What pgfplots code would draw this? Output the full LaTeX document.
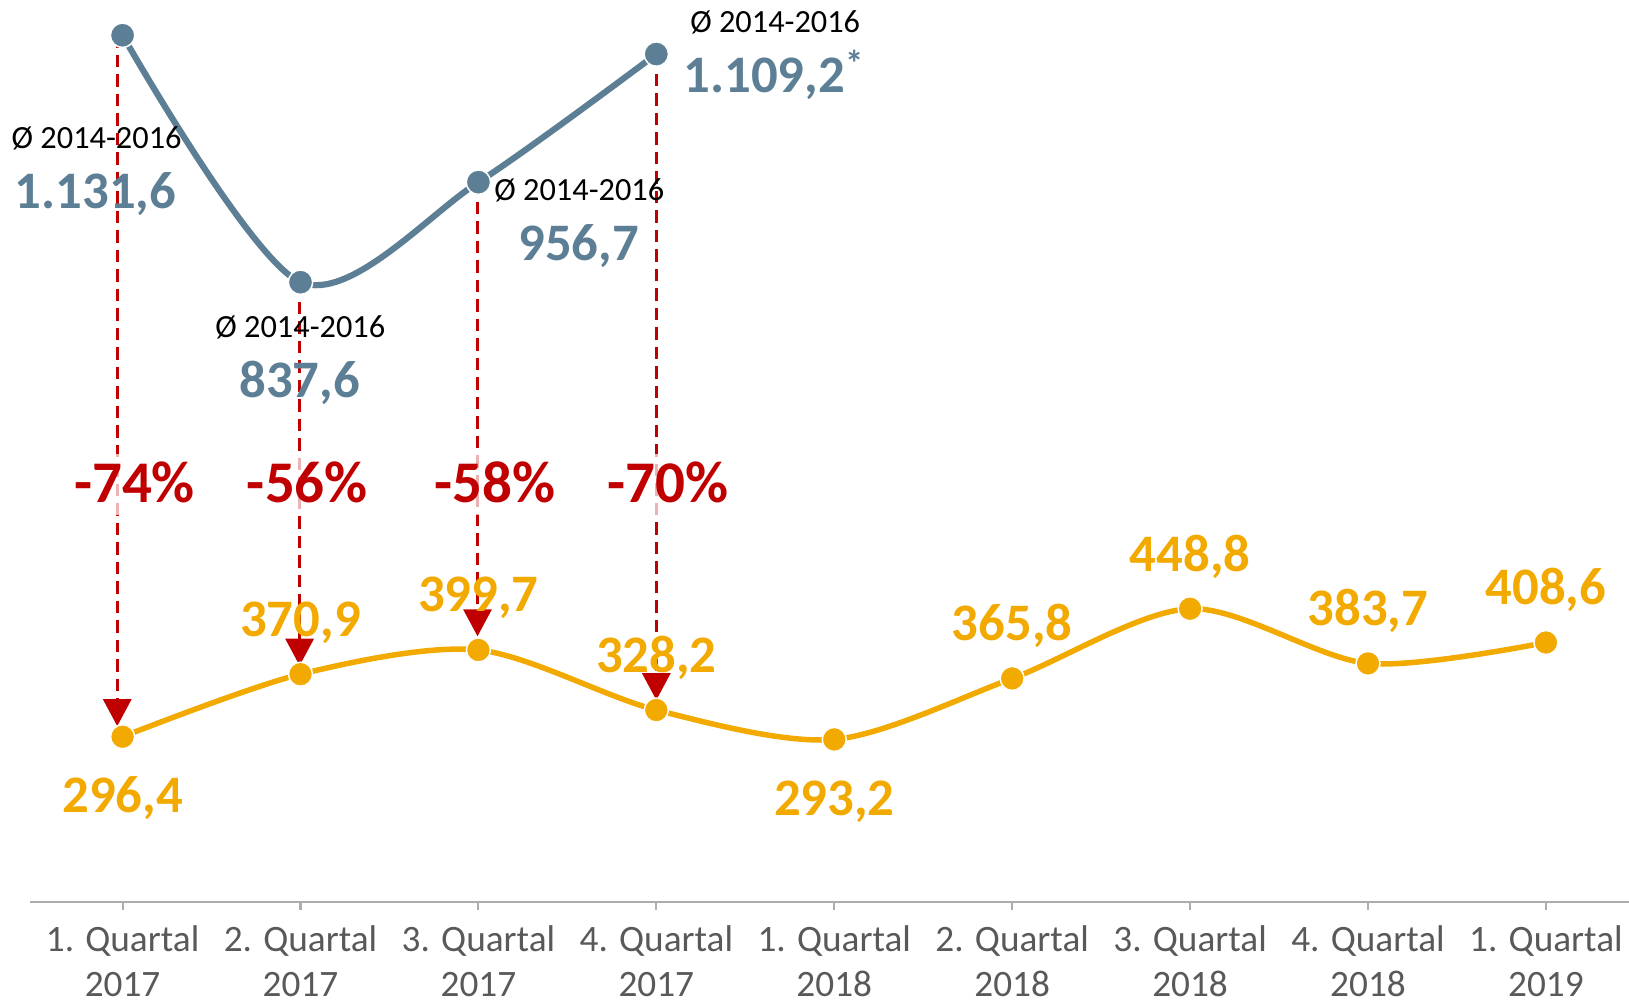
\documentclass[border=0pt]{standalone}
\usepackage{pgfplots}
\pgfplotsset{compat=1.18}
\usepackage{fontspec}
\setmainfont{Carlito}
\usetikzlibrary{arrows.meta}
\definecolor{grayblue}{HTML}{5D7F95}
\definecolor{gold}{HTML}{F2A900}
\definecolor{darkred}{HTML}{C00000}
\definecolor{ticktext}{HTML}{595959}
\definecolor{axisgray}{HTML}{ADADAD}
\tikzset{
  gval/.style={font=\fontsize{15}{15}\selectfont\bfseries, text=grayblue, text height=3.3mm, text depth=0pt, inner sep=0pt},
  oval/.style={font=\fontsize{15}{15}\selectfont\bfseries, text=gold, text height=3.3mm, text depth=0pt, inner sep=0pt},
  avg/.style={font=\fontsize{9.2}{9.2}\selectfont, text=black, text height=2.08mm, text depth=0pt, inner sep=0pt},
  pct/.style={font=\fontsize{16.8}{16.8}\selectfont\bfseries, text=darkred, text height=3.7mm, text depth=0pt, inner xsep=0.5pt, inner ysep=1.2mm, fill=white, fill opacity=0.7, text opacity=1},
  arr/.style={darkred, line width=0.32mm, dash pattern=on 1.25mm off 0.7mm, -{Triangle[length=2.7mm,width=2.8mm]}},
}
\begin{document}
\begin{tikzpicture}
\begin{axis}[
  x=17.79mm, y=0.08398mm,
  xmin=-0.52, xmax=8.467, ymin=100, ymax=1173.6,
  axis x line*=bottom, hide y axis,
  axis line style={draw=axisgray, line width=0.2mm, -},
  xtick={0,...,8},
  xticklabels={{1. Quartal\\2017},{2. Quartal\\2017},{3. Quartal\\2017},{4. Quartal\\2017},{1. Quartal\\2018},{2. Quartal\\2018},{3. Quartal\\2018},{4. Quartal\\2018},{1. Quartal\\2019}},
  xtick align=outside,
  major tick length=0.8mm,
  tick style={draw=axisgray, line width=0.2mm},
  xticklabel style={align=center, font=\fontsize{10.6}{12.8}\selectfont, text=ticktext, inner sep=0pt, anchor=north, yshift=-1.5mm},
  clip=false,
]
% dashed arrows
\addplot[arr] coordinates {(-0.03,1131.6) (-0.03,309)};
\addplot[arr] coordinates {(0.995,837.6) (0.995,381)};
\addplot[arr] coordinates {(1.995,956.7) (1.995,416)};
\addplot[arr] coordinates {(3,1109.2) (3,340)};
% percent labels
\node[pct] at (axis cs:0.067,597.3) {-74\%};
\node[pct] at (axis cs:1.039,597.3) {-56\%};
\node[pct] at (axis cs:2.091,597.3) {-58\%};
\node[pct] at (axis cs:3.064,597.3) {-70\%};
% series
\addplot[grayblue, line width=0.62mm, smooth, tension=0.5, mark=*, mark size=1.22mm, mark options={fill=grayblue, draw=white, line width=0.15mm}]
  coordinates {(0,1131.6) (1,837.6) (2,956.7) (3,1109.2)};
\addplot[gold, line width=0.55mm, smooth, tension=0.5, mark=*, mark size=1.2mm, mark options={fill=gold, draw=white, line width=0.15mm}]
  coordinates {(0,296.4) (1,370.9) (2,399.7) (3,328.2) (4,293.2) (5,365.8) (6,448.8) (7,383.7) (8,408.6)};
% gray labels
\node[avg] at (axis cs:-0.146,1009.1) {Ø 2014-2016};
\node[gval] at (axis cs:-0.152,944.8) {1.131,6};
\node[avg] at (axis cs:0.999,783.9) {Ø 2014-2016};
\node[gval] at (axis cs:0.995,719.6) {837,6};
\node[avg] at (axis cs:2.567,947.3) {Ø 2014-2016};
\node[gval] at (axis cs:2.564,882.9) {956,7};
\node[avg] at (axis cs:3.668,1147.7) {Ø 2014-2016};
\node[gval, anchor=west] at (axis cs:3.150,1083.4) {1.109,2\raisebox{1.6mm}{\fontsize{10.5}{10.5}\selectfont *}};
% orange labels
\node[oval] at (axis cs:0,225.9) {296,4};
\node[oval] at (axis cs:1,435.0) {370,9};
\node[oval] at (axis cs:2,464.8) {399,7};
\node[oval] at (axis cs:3,393.0) {328,2};
\node[oval] at (axis cs:4,222.2) {293,2};
\node[oval] at (axis cs:5,430.1) {365,8};
\node[oval] at (axis cs:6,513.0) {448,8};
\node[oval] at (axis cs:7,448.6) {383,7};
\node[oval] at (axis cs:8,473.4) {408,6};
\coordinate (bbl) at (axis cs:-0.689,-18.3);
\coordinate (btr) at (axis cs:8.467,1173.6);
\end{axis}
\pgfresetboundingbox
\path[use as bounding box] (bbl) rectangle (btr);
\end{tikzpicture}
\end{document}
